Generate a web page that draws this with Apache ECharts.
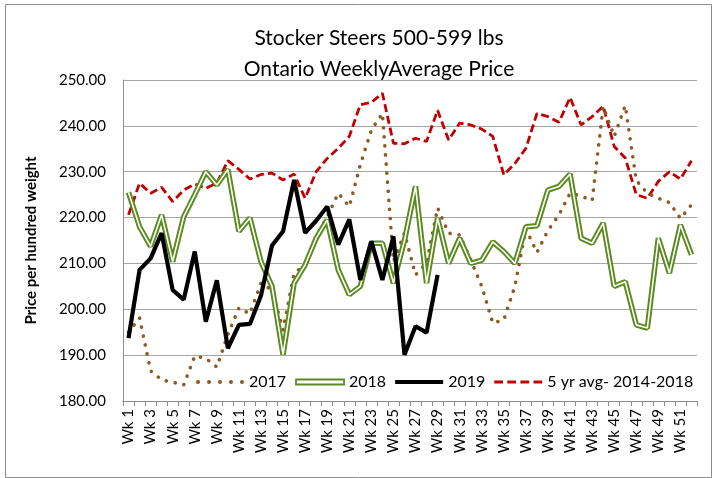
<!DOCTYPE html>
<html><head><meta charset="utf-8">
<script src="https://cdn.jsdelivr.net/npm/echarts@6/dist/echarts.min.js"></script>
<style>html,body{margin:0;padding:0;background:#fff}#c{width:713px;height:478px}</style>
</head><body><div id="c"></div>
<script>
var weeks = [];
for (var w = 1; w <= 52; w++) weeks.push('Wk ' + w);

var y2017 = [195, 198.1, 186.6, 184.6, 184.1, 183.5, 189.8, 189.3, 187.4, 194.5,
  200.3, 199, 205.7, 204.2, 195.5, 207.9, 209.7, 215.9, 220.2, 225.3,
  222.4, 231.5, 239.1, 242.7, 210.4, 216.6, 207.5, 210, 222.1, 216.6,
  216.2, 210.8, 205, 197, 197.7, 205, 217.5, 212.4, 217.2, 220.6,
  225.3, 224.7, 223.7, 244.2, 237.7, 244.4, 228.1, 225.3, 224.2, 223.3,
  219.8, 222.8];

var y2018 = [225.5, 218, 213.7, 220.6, 210.4, 220.2, 225, 230, 227.1, 230.5,
  217, 219.9, 210.4, 205, 190.1, 205.7, 209.7, 215.5, 219.5, 208.6,
  203.2, 205, 214.4, 214.4, 205.7, 215, 226.8, 205.7, 219.9, 210,
  215.5, 210, 210.7, 214.7, 212.6, 210, 218, 218.2, 226, 226.8,
  229.5, 215.5, 214.4, 218.8, 205, 206, 196.6, 195.9, 215.5, 207.9,
  218.4, 211.9];

var y2019 = [193.7, 208.6, 211.1, 216.6, 204.2, 202.1, 212.6, 197.3, 206.3, 191.5,
  196.6, 196.8, 203, 213.9, 217, 228.2, 216.7, 219.3, 222.4, 214.1,
  219.6, 206.4, 214.8, 206.4, 215.9, 190.1, 196.3, 194.9, 207.5];

var yAvg = [220.6, 227.5, 225.3, 226.6, 223.5, 226, 227.3, 226.4, 227.5, 232.4,
  230.5, 228.4, 229.4, 229.7, 228.2, 229.5, 224.2, 230, 232.9, 235.1,
  237.7, 244.6, 245.1, 247.1, 236.2, 236.1, 237.3, 236.6, 243.4, 236.9,
  240.6, 240.2, 239.3, 237.7, 229.3, 231.8, 235.1, 242.7, 242, 240.8,
  246.2, 240.2, 242, 244.3, 235.5, 233, 225, 224.2, 227.9, 230,
  228.4, 232.4];

var titleLines = ['Stocker Steers 500-599 lbs', 'Ontario WeeklyAverage Price'];
var yName = 'Price per hundred weight';

var FONT = 'Lato, "Open Sans", sans-serif';
var GREEN = '#5b8a1f', BROWN = '#8c5a24', RED = '#c00000';

function dotsIcon() {
  var r = 1.8, p = 'path://';
  for (var k = 0; k < 5; k++) {
    var cx = 2 + k * 9.8;
    p += 'M' + (cx - r) + ',' + r + 'a' + r + ',' + r + ' 0 1,0 ' + (2 * r) + ',0a' + r + ',' + r + ' 0 1,0 ' + (-2 * r) + ',0Z';
  }
  return p;
}
function dashIcon() {
  var p = 'path://';
  for (var k = 0; k < 4; k++) {
    var x = k * 12;
    p += 'M' + x + ',0L' + (x + 8) + ',0L' + (x + 8) + ',2.8L' + x + ',2.8Z';
  }
  return p;
}

var chart = echarts.init(document.getElementById('c'), null, {renderer: 'canvas'});
chart.setOption({
  backgroundColor: '#fff',
  animation: false,
  textStyle: {fontFamily: FONT, color: '#000'},
  title: {
    text: titleLines.join('\n'),
    left: 374, top: 18, textAlign: 'center',
    textStyle: {fontFamily: FONT, fontSize: 21, fontWeight: 'normal', color: '#000', lineHeight: 31}
  },
  graphic: [{
    type: 'rect', left: 3, top: 2, silent: true, z: -10,
    shape: {width: 706, height: 473},
    style: {fill: 'none', stroke: '#8c8c8c', lineWidth: 1}
  }],
  legend: {
    left: 191, top: 369,
    itemWidth: 48, itemHeight: 12, itemGap: 9,
    textStyle: {fontFamily: FONT, fontSize: 16, color: '#000'},
    data: [
      {name: '2017', icon: dotsIcon(), itemStyle: {color: BROWN}},
      {name: '2018', icon: 'path://M0,0L48,0L48,5L0,5Z',
        itemStyle: {color: '#fff', borderColor: GREEN, borderWidth: 1.8}},
      {name: '2019', icon: 'path://M0,0L48,0L48,4.2L0,4.2Z', itemStyle: {color: '#000'}},
      {name: '5 yr avg- 2014-2018', icon: dashIcon(), itemStyle: {color: RED}}
    ]
  },
  grid: {left: 123, right: 16, top: 80, bottom: 77, containLabel: false},
  xAxis: {
    type: 'category', data: weeks, boundaryGap: true,
    axisLine: {lineStyle: {color: '#8c8c8c', width: 1}},
    axisTick: {show: true, interval: 0, length: 5, lineStyle: {color: '#8c8c8c'}},
    axisLabel: {interval: 1, rotate: 90, fontFamily: FONT, fontSize: 15, color: '#000', margin: 8}
  },
  yAxis: {
    type: 'value', min: 180, max: 250, interval: 10,
    name: yName, nameLocation: 'middle', nameGap: 84, nameRotate: 90,
    nameTextStyle: {fontFamily: FONT, fontSize: 15, fontWeight: 'bold', color: '#000'},
    axisLine: {show: true, lineStyle: {color: '#8c8c8c'}},
    axisTick: {show: false},
    splitLine: {lineStyle: {color: '#a6a6a6', width: 1}},
    axisLabel: {fontFamily: FONT, fontSize: 15, color: '#000', margin: 17,
      formatter: function (v) { return v.toFixed(2); }}
  },
  series: [
    {name: '2017', type: 'line', data: y2017, symbol: 'none', z: 2,
      lineStyle: {color: BROWN, width: 3.6, type: [0.1, 9], cap: 'round'}, itemStyle: {color: BROWN}},
    {name: '2018', type: 'line', data: y2018, symbol: 'none', z: 3,
      lineStyle: {color: GREEN, width: 5.5}, itemStyle: {color: GREEN}},
    {name: '2018w', type: 'line', data: y2018, symbol: 'none', z: 4, legendHoverLink: false,
      lineStyle: {color: '#fff', width: 1.6}, itemStyle: {color: '#fff'}},
    {name: '2019', type: 'line', data: y2019, symbol: 'none', z: 5,
      lineStyle: {color: '#000', width: 4.2}, itemStyle: {color: '#000'}},
    {name: '5 yr avg- 2014-2018', type: 'line', data: yAvg, symbol: 'none', z: 1,
      lineStyle: {color: RED, width: 2.8, type: [8, 4]}, itemStyle: {color: RED}}
  ]
});
</script></body></html>
